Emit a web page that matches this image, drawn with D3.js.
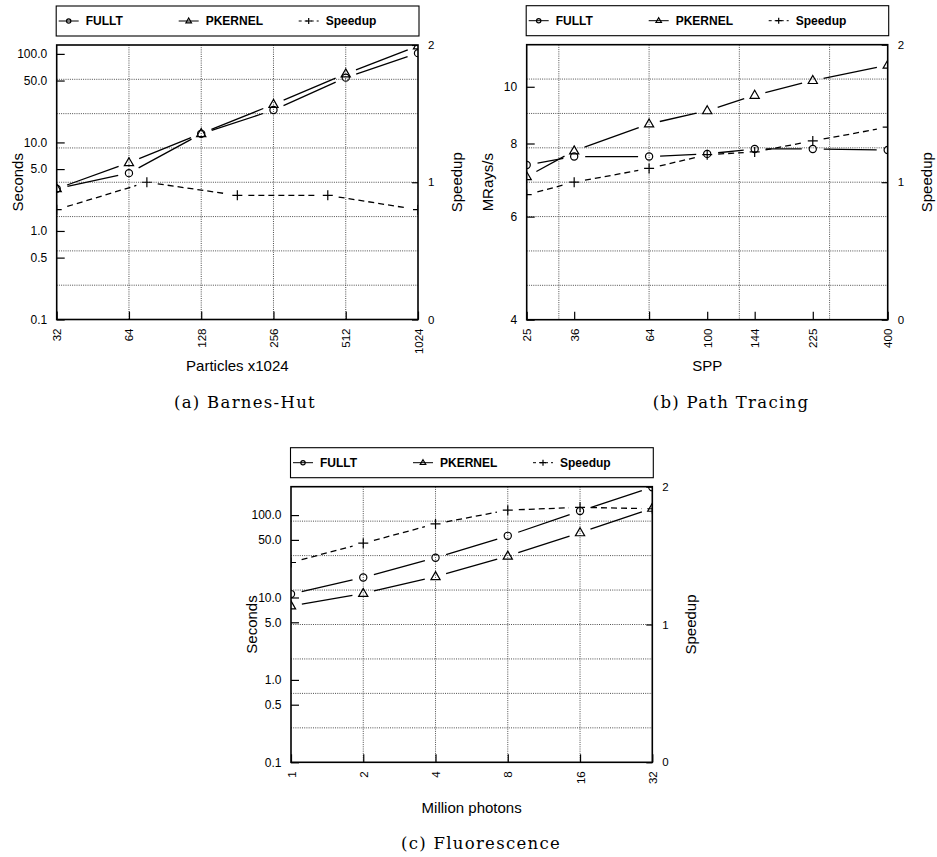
<!DOCTYPE html>
<html>
<head>
<meta charset="utf-8">
<script src="https://cdn.jsdelivr.net/npm/d3@7"></script>
<style>
body { margin: 0; background: #fff; }
svg { display: block; font-family: "Liberation Sans", Arial, sans-serif; }
</style>
</head>
<body>
<svg id="chart" width="937" height="857"></svg>
<script>
// (a) Barnes-Hut
const particles = [32, 64, 128, 256, 512, 1024];
const barnesFullt = [3.0, 4.5, 12.5, 23.2, 53.9, 102];
const barnesPkernel = [3.0, 5.9, 12.6, 26.9, 59.4, 123];
const barnesSpeedupX = [32, 76, 181, 431, 1024];
const barnesSpeedup = [0.80, 1.00, 0.905, 0.905, 0.80];

// (b) Path Tracing
const spp = [25, 36, 64, 100, 144, 225, 400];
const pathFullt = [7.35, 7.6, 7.6, 7.68, 7.83, 7.83, 7.8];
const pathPkernel = [7.02, 7.77, 8.64, 9.10, 9.67, 10.25, 10.89];
const pathSpeedup = [0.91, 1.0, 1.10, 1.20, 1.22, 1.30, 1.40];

// (c) Fluorescence
const photons = [1, 2, 4, 8, 16, 32];
const fluoFullt = [11.0, 17.5, 30.4, 56, 112, 218];
const fluoPkernel = [7.9, 11.2, 17.9, 31.8, 61, 121];
const fluoSpeedup = [1.45, 1.59, 1.73, 1.83, 1.85, 1.84];

// tick labels / grid
const secondsTicks = [0.1, 0.5, 1, 5, 10, 50, 100];
const mraysTicks = [4, 6, 8, 10];
const speedupTicks = [0, 1, 2];
const speedupGrid = [0.25, 0.5, 0.75, 1, 1.25, 1.5, 1.75];
const legendNames = ['FULLT', 'PKERNEL', 'Speedup'];

const svg = d3.select('#chart');

const panels = [
  {
    id: 'a', left: 56.7, right: 418, top: 45, bottom: 319.5,
    xDomain: [32, 1024], yDomain: [0.1, 126],
    xTicks: particles, gridX: [64, 128, 256, 512],
    yTicks: secondsTicks, yFormat: d3.format('.1f'),
    yLabel: 'Seconds', xLabel: 'Particles x1024',
    caption: '(a) Barnes-Hut', capX: 245, capY: 407.7,
    fullt: particles.map((d, i) => [d, barnesFullt[i]]),
    pkernel: particles.map((d, i) => [d, barnesPkernel[i]]),
    speedup: barnesSpeedupX.map((d, i) => [d, barnesSpeedup[i]])
  },
  {
    id: 'b', left: 526.7, right: 887.7, top: 44.7, bottom: 319.7,
    xDomain: [25, 400], yDomain: [4, 11.8],
    xTicks: spp, gridX: [32, 64, 128, 256],
    yTicks: mraysTicks, yFormat: d3.format('d'),
    yLabel: 'MRays/s', xLabel: 'SPP',
    caption: '(b) Path Tracing', capX: 731, capY: 407.7,
    fullt: spp.map((d, i) => [d, pathFullt[i]]),
    pkernel: spp.map((d, i) => [d, pathPkernel[i]]),
    speedup: spp.map((d, i) => [d, pathSpeedup[i]])
  },
  {
    id: 'c', left: 291, right: 652.3, top: 486.7, bottom: 762.3,
    xDomain: [1, 32], yDomain: [0.1, 221],
    xTicks: photons, gridX: [2, 4, 8, 16],
    yTicks: secondsTicks, yFormat: d3.format('.1f'),
    yLabel: 'Seconds', xLabel: 'Million photons',
    caption: '(c) Fluorescence', capX: 481, capY: 849,
    fullt: photons.map((d, i) => [d, fluoFullt[i]]),
    pkernel: photons.map((d, i) => [d, fluoPkernel[i]]),
    speedup: photons.map((d, i) => [d, fluoSpeedup[i]])
  }
];

const triPath = 'M0,-5L4.6,3L-4.6,3Z';
const plusPath = 'M-5,0H5M0,-5V5';

function marker(g, kind, px, py, scale) {
  if (kind === 'circle') {
    g.append('circle').attr('cx', px).attr('cy', py).attr('r', 3.6 * scale)
      .attr('fill', 'none').attr('stroke', '#000').attr('stroke-width', 1.2);
  } else {
    g.append('path').attr('d', kind === 'tri' ? triPath : plusPath)
      .attr('transform', `translate(${px},${py}) scale(${scale})`)
      .attr('fill', 'none').attr('stroke', '#000').attr('stroke-width', 1.2 / scale);
  }
}

// line with gaps around each point, like gnuplot's "lp pi -1"
function series(g, pts, kind, dash) {
  const gap = 11;
  for (let i = 0; i < pts.length - 1; i++) {
    const [ax, ay] = pts[i], [bx, by] = pts[i + 1];
    const dx = bx - ax, dy = by - ay, d = Math.hypot(dx, dy);
    if (d <= 2 * gap) continue;
    const ux = dx / d, uy = dy / d;
    g.append('line')
      .attr('x1', ax + ux * gap).attr('y1', ay + uy * gap)
      .attr('x2', bx - ux * gap).attr('y2', by - uy * gap)
      .attr('stroke', '#000').attr('stroke-width', 1.3)
      .attr('stroke-dasharray', dash);
  }
  pts.forEach(p => marker(g, kind, p[0], p[1], 1));
}

panels.forEach(p => {
  const g = svg.append('g');
  const x = d3.scaleLog().domain(p.xDomain).range([p.left, p.right]);
  const y = d3.scaleLog().domain(p.yDomain).range([p.bottom, p.top]);
  const y2 = d3.scaleLinear().domain([0, 2]).range([p.bottom, p.top]);
  const midX = (p.left + p.right) / 2, midY = (p.top + p.bottom) / 2;

  // grid
  g.selectAll('.gx').data(p.gridX).join('line')
    .attr('x1', d => x(d)).attr('x2', d => x(d))
    .attr('y1', p.top).attr('y2', p.bottom);
  g.selectAll('.gy').data(speedupGrid).join('line')
    .attr('x1', p.left).attr('x2', p.right)
    .attr('y1', d => y2(d)).attr('y2', d => y2(d));
  g.selectAll('line').attr('stroke', '#222').attr('stroke-width', 0.8)
    .attr('stroke-dasharray', '1,1.2');

  // series clipped to plot area
  g.append('clipPath').attr('id', 'clip-' + p.id).append('rect')
    .attr('x', p.left).attr('y', p.top)
    .attr('width', p.right - p.left).attr('height', p.bottom - p.top);
  const plot = g.append('g').attr('clip-path', `url(#clip-${p.id})`);
  series(plot, p.fullt.map(d => [x(d[0]), y(d[1])]), 'circle', null);
  series(plot, p.pkernel.map(d => [x(d[0]), y(d[1])]), 'tri', null);
  series(plot, p.speedup.map(d => [x(d[0]), y2(d[1])]), 'plus', '6,4');

  // axes
  const left = g.append('g').attr('transform', `translate(${p.left},0)`)
    .call(d3.axisLeft(y).tickValues(p.yTicks).tickFormat(p.yFormat)
      .tickSizeInner(-8).tickSizeOuter(0).tickPadding(9.5));
  const right = g.append('g').attr('transform', `translate(${p.right},0)`)
    .call(d3.axisRight(y2).tickValues(speedupTicks).tickFormat(d3.format('d'))
      .tickSizeInner(-6).tickSizeOuter(0).tickPadding(10));
  const bottom = g.append('g').attr('transform', `translate(0,${p.bottom})`)
    .call(d3.axisBottom(x).tickValues(p.xTicks).tickFormat(d3.format('d'))
      .tickSizeInner(-8).tickSizeOuter(0));
  bottom.selectAll('text')
    .attr('transform', 'rotate(-90)').attr('text-anchor', 'end')
    .attr('x', -9).attr('y', 0).attr('dy', '0.35em');
  [left, right, bottom].forEach(a => {
    a.attr('font-family', null).attr('font-size', 11.5);
    a.select('.domain').remove();
    a.selectAll('line').attr('stroke-width', 1.2);
  });
  left.attr('font-size', 12);

  // border
  g.append('rect').attr('x', p.left).attr('y', p.top)
    .attr('width', p.right - p.left).attr('height', p.bottom - p.top)
    .attr('fill', 'none').attr('stroke', '#000').attr('stroke-width', 1.6);

  // axis titles
  g.append('text').attr('transform', `translate(${p.left - 34},${midY}) rotate(-90)`)
    .attr('text-anchor', 'middle').attr('font-size', 15).text(p.yLabel);
  g.append('text').attr('transform', `translate(${p.right + 44},${midY}) rotate(-90)`)
    .attr('text-anchor', 'middle').attr('font-size', 15).text('Speedup');
  g.append('text').attr('x', midX).attr('y', p.bottom + 51)
    .attr('text-anchor', 'middle').attr('font-size', 15).text(p.xLabel);

  // legend
  const ly = p.top - 39;
  g.append('rect').attr('x', p.left - 0.5).attr('y', ly)
    .attr('width', p.right - p.left + 1.5).attr('height', 30)
    .attr('fill', '#fff').attr('stroke', '#000').attr('stroke-width', 1.1);
  const kinds = ['circle', 'tri', 'plus'];
  legendNames.forEach((name, i) => {
    const ox = p.left + [2, 122, 242][i];
    const cy = ly + 15;
    g.append('line').attr('x1', ox).attr('x2', ox + 20).attr('y1', cy).attr('y2', cy)
      .attr('stroke', '#000').attr('stroke-width', 1)
      .attr('stroke-dasharray', i === 2 ? '3,3' : null);
    marker(g, kinds[i], ox + 10, cy, 0.6);
    g.append('text').attr('x', ox + 27).attr('y', cy + 4.3)
      .attr('font-size', 12).attr('font-weight', 'bold').text(name);
  });

  // caption
  g.append('text').attr('x', p.capX).attr('y', p.capY)
    .attr('text-anchor', 'middle').attr('font-family', '"DejaVu Serif", serif')
    .attr('font-size', 16.5).attr('letter-spacing', 1.3).text(p.caption);
});
</script>
</body>
</html>
